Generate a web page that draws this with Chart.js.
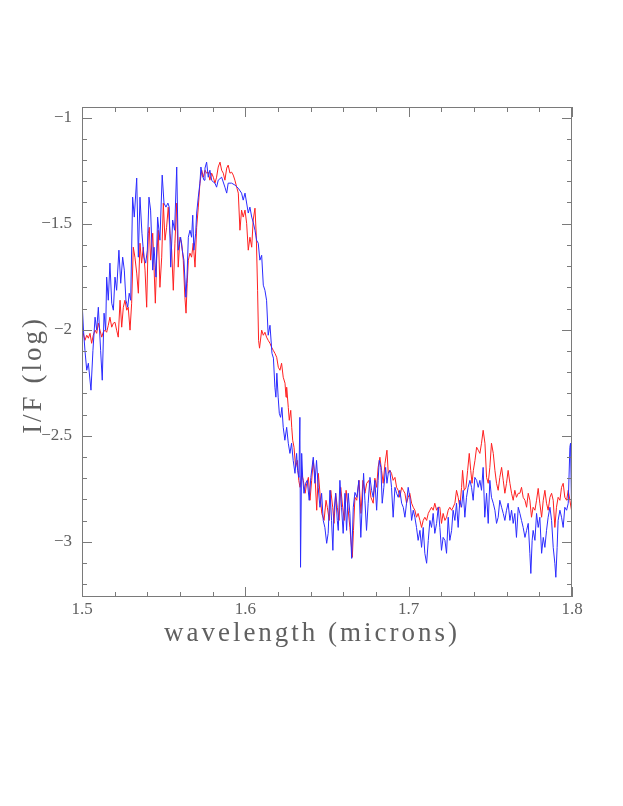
<!DOCTYPE html>
<html>
<head>
<meta charset="utf-8">
<title>I/F spectrum</title>
<script src="https://cdn.jsdelivr.net/npm/chart.js@4.4.1/dist/chart.umd.min.js"></script>
<style>
  html, body { margin: 0; padding: 0; background: #fff; }
  #wrap { width: 623px; height: 806px; }
</style>
</head>
<body>
<div id="wrap"><canvas id="spec" width="623" height="806"></canvas></div>
<script>
/* ── I/F spectrum, 1.5–1.8 µm ── */

// ── Data ──

// blue spectrum: [wavelength (microns), log I/F]
const blueSpectrum = [
  [1.5000,-1.861],[1.5009,-2.002],[1.5018,-2.097],[1.5029,-2.191],[1.5039,-2.158],[1.5055,-2.285],[1.5067,-2.097],[1.5080,-1.941],[1.5090,-2.002],[1.5100,-1.894],
  [1.5114,-2.097],[1.5124,-2.238],[1.5135,-1.922],[1.5145,-2.002],[1.5151,-1.752],[1.5161,-1.861],[1.5171,-1.686],[1.5182,-1.875],[1.5192,-1.908],[1.5202,-1.752],
  [1.5212,-1.814],[1.5226,-1.625],[1.5237,-1.781],[1.5249,-1.658],[1.5259,-1.719],[1.5269,-1.861],[1.5280,-1.894],[1.5289,-1.828],[1.5298,-1.861],[1.5310,-1.375],
  [1.5320,-1.469],[1.5335,-1.285],[1.5345,-1.658],[1.5355,-1.375],[1.5367,-1.545],[1.5379,-1.658],[1.5390,-1.686],[1.5400,-1.625],[1.5410,-1.375],[1.5420,-1.436],
  [1.5433,-1.719],[1.5441,-1.611],[1.5453,-1.752],[1.5463,-1.469],[1.5477,-1.578],[1.5491,-1.271],[1.5502,-1.403],[1.5514,-1.422],[1.5526,-1.403],[1.5534,-1.422],
  [1.5543,-1.705],[1.5555,-1.483],[1.5567,-1.531],[1.5580,-1.233],[1.5589,-1.625],[1.5604,-1.564],[1.5614,-1.625],[1.5624,-1.672],[1.5636,-1.847],[1.5643,-1.752],
  [1.5651,-1.564],[1.5661,-1.531],[1.5671,-1.564],[1.5678,-1.460],[1.5685,-1.625],[1.5696,-1.545],[1.5702,-1.450],[1.5712,-1.375],[1.5722,-1.309],[1.5728,-1.233],
  [1.5736,-1.271],[1.5747,-1.295],[1.5753,-1.238],[1.5763,-1.210],[1.5773,-1.281],[1.5783,-1.248],[1.5794,-1.295],[1.5804,-1.304],[1.5814,-1.309],[1.5824,-1.328],
  [1.5834,-1.295],[1.5855,-1.281],[1.5875,-1.328],[1.5886,-1.356],[1.5895,-1.309],[1.5916,-1.309],[1.5936,-1.318],[1.5957,-1.333],[1.5977,-1.356],[1.5987,-1.389],
  [1.5998,-1.356],[1.6018,-1.450],[1.6028,-1.422],[1.6039,-1.469],[1.6048,-1.493],[1.6059,-1.531],[1.6069,-1.578],[1.6079,-1.592],[1.6089,-1.672],[1.6100,-1.649],
  [1.6110,-1.790],[1.6120,-1.814],[1.6130,-1.861],[1.6140,-2.026],[1.6151,-1.979],[1.6163,-2.111],[1.6172,-2.134],[1.6181,-2.271],[1.6187,-2.318],[1.6193,-2.205],
  [1.6201,-2.318],[1.6208,-2.394],[1.6216,-2.413],[1.6224,-2.366],[1.6232,-2.460],[1.6242,-2.521],[1.6253,-2.460],[1.6263,-2.535],[1.6273,-2.583],[1.6283,-2.535],
  [1.6293,-2.616],[1.6304,-2.677],[1.6314,-2.583],[1.6320,-2.663],[1.6328,-2.696],[1.6334,-2.413],[1.6338,-3.120],[1.6345,-2.583],[1.6351,-2.696],[1.6359,-2.771],
  [1.6369,-2.724],[1.6379,-2.710],[1.6391,-2.804],[1.6401,-2.696],[1.6416,-2.601],[1.6426,-2.724],[1.6436,-2.616],[1.6446,-2.743],[1.6457,-2.837],[1.6467,-2.771],
  [1.6477,-2.899],[1.6487,-2.932],[1.6498,-3.007],[1.6507,-2.960],[1.6518,-2.757],[1.6528,-2.899],[1.6536,-3.040],[1.6542,-2.866],[1.6553,-2.771],[1.6563,-2.899],
  [1.6569,-2.946],[1.6579,-2.710],[1.6589,-2.837],[1.6599,-2.960],[1.6610,-2.771],[1.6620,-2.946],[1.6630,-2.771],[1.6640,-2.866],[1.6651,-3.078],[1.6661,-2.837],
  [1.6671,-2.767],[1.6683,-2.790],[1.6695,-2.710],[1.6707,-2.979],[1.6724,-2.677],[1.6732,-2.804],[1.6742,-2.946],[1.6752,-2.818],[1.6763,-2.696],[1.6773,-2.757],
  [1.6783,-2.790],[1.6793,-2.710],[1.6804,-2.851],[1.6813,-2.710],[1.6820,-2.616],[1.6830,-2.649],[1.6838,-2.818],[1.6848,-2.743],[1.6859,-2.649],[1.6867,-2.724],
  [1.6875,-2.677],[1.6885,-2.663],[1.6895,-2.743],[1.6905,-2.884],[1.6916,-2.743],[1.6926,-2.771],[1.6936,-2.790],[1.6946,-2.757],[1.6957,-2.818],[1.6967,-2.837],
  [1.6977,-2.884],[1.6987,-2.818],[1.6997,-2.743],[1.7007,-2.790],[1.7018,-2.899],[1.7028,-2.851],[1.7038,-2.884],[1.7048,-2.932],[1.7058,-2.993],[1.7069,-2.946],
  [1.7079,-3.026],[1.7089,-2.932],[1.7099,-3.054],[1.7110,-3.101],[1.7120,-2.993],[1.7130,-2.899],[1.7140,-2.932],[1.7150,-2.866],[1.7160,-2.960],[1.7171,-2.913],
  [1.7181,-2.837],[1.7191,-2.932],[1.7201,-3.040],[1.7211,-2.979],[1.7222,-2.993],[1.7232,-3.054],[1.7242,-2.884],[1.7252,-2.993],[1.7263,-2.946],[1.7272,-2.851],
  [1.7283,-2.899],[1.7293,-2.818],[1.7303,-2.932],[1.7313,-2.804],[1.7324,-2.837],[1.7334,-2.757],[1.7344,-2.884],[1.7354,-2.790],[1.7364,-2.743],[1.7375,-2.710],
  [1.7385,-2.743],[1.7395,-2.804],[1.7405,-2.696],[1.7416,-2.710],[1.7426,-2.743],[1.7436,-2.710],[1.7446,-2.757],[1.7456,-2.649],[1.7466,-2.884],[1.7477,-2.771],
  [1.7487,-2.913],[1.7497,-2.710],[1.7507,-2.790],[1.7518,-2.818],[1.7528,-2.851],[1.7538,-2.913],[1.7548,-2.884],[1.7558,-2.804],[1.7569,-2.837],[1.7579,-2.866],
  [1.7589,-2.899],[1.7599,-2.851],[1.7609,-2.818],[1.7620,-2.899],[1.7630,-2.851],[1.7640,-2.913],[1.7650,-2.866],[1.7660,-2.979],[1.7671,-2.837],[1.7681,-2.866],
  [1.7691,-2.899],[1.7701,-2.932],[1.7712,-2.979],[1.7722,-2.946],[1.7732,-2.913],[1.7742,-3.054],[1.7748,-3.149],[1.7756,-2.993],[1.7762,-2.946],[1.7773,-2.993],
  [1.7783,-2.866],[1.7793,-2.932],[1.7803,-2.884],[1.7814,-3.054],[1.7824,-2.979],[1.7834,-3.026],[1.7844,-2.946],[1.7854,-2.884],[1.7865,-2.837],[1.7875,-2.899],
  [1.7885,-3.026],[1.7895,-3.101],[1.7901,-3.167],[1.7909,-3.026],[1.7915,-2.899],[1.7926,-2.851],[1.7936,-2.884],[1.7946,-2.932],[1.7956,-2.837],[1.7967,-2.851],
  [1.7977,-2.818],[1.7987,-2.554],[1.7991,-2.535],[1.7997,-2.818]
];

// red spectrum: [wavelength (microns), log I/F]
const redSpectrum = [
  [1.5000,-2.035],[1.5008,-2.017],[1.5018,-2.050],[1.5029,-2.026],[1.5039,-2.040],[1.5049,-2.017],[1.5059,-2.064],[1.5069,-2.026],[1.5080,-2.002],[1.5090,-2.017],
  [1.5100,-1.969],[1.5110,-2.002],[1.5121,-2.035],[1.5130,-2.012],[1.5141,-2.002],[1.5151,-2.012],[1.5161,-1.979],[1.5171,-1.941],[1.5182,-1.988],[1.5192,-1.969],
  [1.5202,-1.965],[1.5212,-2.002],[1.5222,-2.035],[1.5233,-1.861],[1.5243,-1.988],[1.5253,-1.894],[1.5263,-1.861],[1.5274,-1.908],[1.5283,-1.894],[1.5294,-2.002],
  [1.5304,-1.875],[1.5314,-1.611],[1.5324,-1.658],[1.5335,-1.733],[1.5345,-1.828],[1.5355,-1.592],[1.5365,-1.686],[1.5375,-1.611],[1.5386,-1.719],[1.5396,-1.894],
  [1.5406,-1.545],[1.5412,-1.517],[1.5420,-1.672],[1.5433,-1.545],[1.5441,-1.705],[1.5449,-1.875],[1.5457,-1.672],[1.5467,-1.531],[1.5477,-1.800],[1.5488,-1.658],
  [1.5498,-1.403],[1.5508,-1.578],[1.5518,-1.517],[1.5528,-1.422],[1.5539,-1.545],[1.5549,-1.625],[1.5559,-1.814],[1.5569,-1.592],[1.5580,-1.403],[1.5589,-1.705],
  [1.5600,-1.564],[1.5610,-1.592],[1.5620,-1.672],[1.5630,-1.847],[1.5637,-1.922],[1.5644,-1.781],[1.5651,-1.672],[1.5661,-1.639],[1.5671,-1.658],[1.5681,-1.592],
  [1.5692,-1.705],[1.5702,-1.517],[1.5712,-1.422],[1.5722,-1.309],[1.5733,-1.248],[1.5743,-1.281],[1.5753,-1.248],[1.5763,-1.262],[1.5773,-1.257],[1.5783,-1.295],
  [1.5794,-1.262],[1.5804,-1.281],[1.5814,-1.309],[1.5824,-1.281],[1.5834,-1.233],[1.5845,-1.210],[1.5855,-1.248],[1.5865,-1.262],[1.5875,-1.295],[1.5886,-1.238],
  [1.5895,-1.224],[1.5906,-1.262],[1.5916,-1.257],[1.5926,-1.271],[1.5936,-1.295],[1.5947,-1.328],[1.5957,-1.356],[1.5967,-1.531],[1.5977,-1.436],[1.5987,-1.469],
  [1.5998,-1.436],[1.6008,-1.498],[1.6018,-1.625],[1.6028,-1.564],[1.6039,-1.611],[1.6048,-1.483],[1.6059,-1.427],[1.6067,-1.554],[1.6075,-1.814],[1.6081,-2.050],
  [1.6087,-2.087],[1.6100,-2.002],[1.6110,-2.026],[1.6120,-2.012],[1.6130,-2.035],[1.6140,-2.050],[1.6151,-2.064],[1.6161,-2.083],[1.6171,-2.097],[1.6181,-2.111],
  [1.6192,-2.130],[1.6202,-2.177],[1.6212,-2.191],[1.6222,-2.158],[1.6232,-2.224],[1.6243,-2.252],[1.6249,-2.318],[1.6253,-2.271],[1.6263,-2.366],[1.6269,-2.427],
  [1.6278,-2.380],[1.6284,-2.460],[1.6290,-2.521],[1.6298,-2.554],[1.6308,-2.649],[1.6318,-2.616],[1.6327,-2.710],[1.6335,-2.743],[1.6345,-2.677],[1.6355,-2.710],
  [1.6366,-2.771],[1.6376,-2.724],[1.6386,-2.696],[1.6396,-2.804],[1.6406,-2.710],[1.6416,-2.616],[1.6427,-2.696],[1.6437,-2.851],[1.6447,-2.677],[1.6457,-2.771],
  [1.6468,-2.866],[1.6482,-2.899],[1.6494,-2.804],[1.6502,-2.837],[1.6514,-2.899],[1.6523,-2.757],[1.6535,-2.837],[1.6543,-2.913],[1.6553,-2.771],[1.6563,-2.837],
  [1.6574,-2.899],[1.6584,-2.743],[1.6596,-2.837],[1.6606,-2.899],[1.6617,-2.757],[1.6630,-2.851],[1.6640,-2.932],[1.6655,-3.073],[1.6662,-2.946],[1.6671,-2.790],
  [1.6682,-2.804],[1.6696,-2.710],[1.6708,-2.866],[1.6720,-2.710],[1.6732,-2.771],[1.6743,-2.724],[1.6757,-2.710],[1.6769,-2.790],[1.6783,-2.818],[1.6793,-2.700],
  [1.6804,-2.743],[1.6813,-2.649],[1.6824,-2.601],[1.6834,-2.663],[1.6844,-2.724],[1.6855,-2.630],[1.6867,-2.568],[1.6875,-2.677],[1.6885,-2.663],[1.6895,-2.677],
  [1.6905,-2.710],[1.6916,-2.696],[1.6926,-2.743],[1.6936,-2.757],[1.6946,-2.790],[1.6957,-2.743],[1.6967,-2.757],[1.6977,-2.771],[1.6987,-2.818],[1.6997,-2.790],
  [1.7007,-2.771],[1.7018,-2.818],[1.7028,-2.837],[1.7038,-2.851],[1.7048,-2.884],[1.7058,-2.866],[1.7069,-2.899],[1.7079,-2.932],[1.7089,-2.899],[1.7099,-2.884],
  [1.7110,-2.899],[1.7120,-2.866],[1.7130,-2.851],[1.7140,-2.837],[1.7150,-2.851],[1.7160,-2.818],[1.7171,-2.851],[1.7181,-2.837],[1.7191,-2.837],[1.7201,-2.913],
  [1.7211,-2.866],[1.7222,-2.899],[1.7232,-2.884],[1.7242,-2.851],[1.7252,-2.837],[1.7263,-2.851],[1.7272,-2.837],[1.7283,-2.818],[1.7293,-2.757],[1.7303,-2.790],
  [1.7313,-2.837],[1.7324,-2.743],[1.7330,-2.663],[1.7340,-2.757],[1.7351,-2.743],[1.7361,-2.663],[1.7371,-2.583],[1.7380,-2.663],[1.7388,-2.724],[1.7396,-2.663],
  [1.7406,-2.616],[1.7416,-2.554],[1.7426,-2.568],[1.7436,-2.583],[1.7446,-2.535],[1.7456,-2.474],[1.7467,-2.535],[1.7477,-2.696],[1.7487,-2.724],[1.7497,-2.649],
  [1.7507,-2.535],[1.7518,-2.583],[1.7528,-2.663],[1.7538,-2.724],[1.7548,-2.757],[1.7558,-2.696],[1.7569,-2.649],[1.7579,-2.710],[1.7589,-2.771],[1.7599,-2.724],
  [1.7609,-2.663],[1.7620,-2.724],[1.7630,-2.771],[1.7640,-2.804],[1.7650,-2.757],[1.7660,-2.790],[1.7671,-2.771],[1.7681,-2.771],[1.7691,-2.743],[1.7701,-2.790],
  [1.7712,-2.804],[1.7722,-2.837],[1.7732,-2.771],[1.7742,-2.804],[1.7752,-2.884],[1.7762,-2.837],[1.7773,-2.851],[1.7783,-2.804],[1.7793,-2.748],[1.7803,-2.818],
  [1.7814,-2.884],[1.7824,-2.804],[1.7834,-2.757],[1.7844,-2.818],[1.7854,-2.851],[1.7865,-2.790],[1.7875,-2.771],[1.7885,-2.804],[1.7895,-2.932],[1.7905,-2.837],
  [1.7915,-2.790],[1.7926,-2.804],[1.7936,-2.743],[1.7946,-2.724],[1.7956,-2.790],[1.7967,-2.804],[1.7977,-2.757],[1.7987,-2.804],[1.7997,-2.851]
];

// axis ticks
const xMajor = [1.5, 1.6, 1.7, 1.8];
const xMinor = [1.52, 1.54, 1.56, 1.58, 1.62, 1.64, 1.66, 1.68, 1.72, 1.74, 1.76, 1.78];
const yMajor = [-1, -1.5, -2, -2.5, -3];
const yMinor = [-1.1, -1.2, -1.3, -1.4, -1.6, -1.7, -1.8, -1.9, -2.1, -2.2, -2.3, -2.4,
                -2.6, -2.7, -2.8, -2.9, -3.1, -3.2];

const xTitle = 'wavelength (microns)';
const yTitle = 'I/F (log)';

const AXIS_GREY = '#7a7a7a';
const TEXT_GREY = '#606060';
const SERIF = '"Liberation Serif", "DejaVu Serif", serif';

// ── Frame: box, inward ticks on all four sides, axis titles ──

const framePlugin = {
  id: 'frame',
  afterDatasetsDraw(chart) {
    const { ctx, chartArea: a, scales: { x, y } } = chart;
    ctx.save();
    ctx.strokeStyle = AXIS_GREY;
    ctx.lineWidth = 1;
    ctx.strokeRect(Math.round(a.left) + 0.5, Math.round(a.top) + 0.5,
                   Math.round(a.width) - 1, Math.round(a.height) - 1);

    ctx.beginPath();
    const xt = (v, len) => {
      const p = Math.round(x.getPixelForValue(v)) + 0.5;
      ctx.moveTo(p, a.bottom); ctx.lineTo(p, a.bottom - len);
      ctx.moveTo(p, a.top);    ctx.lineTo(p, a.top + len);
    };
    const yt = (v, len) => {
      const p = Math.round(y.getPixelForValue(v)) + 0.5;
      ctx.moveTo(a.left, p);  ctx.lineTo(a.left + len, p);
      ctx.moveTo(a.right, p); ctx.lineTo(a.right - len, p);
    };
    xMajor.forEach(v => xt(v, 10));
    xMinor.forEach(v => xt(v, 5));
    yMajor.forEach(v => yt(v, 10));
    yMinor.forEach(v => yt(v, 5));
    ctx.stroke();
    ctx.restore();
  },
  afterDraw(chart) {
    const { ctx } = chart;
    ctx.save();
    ctx.fillStyle = TEXT_GREY;
    ctx.font = `27px ${SERIF}`;
    ctx.letterSpacing = '3px';
    ctx.textAlign = 'center';
    ctx.textBaseline = 'middle';
    ctx.fillText(xTitle, 312, 634);
    ctx.translate(34, 375);
    ctx.rotate(-Math.PI / 2);
    ctx.fillText(yTitle, 0, 0);
    ctx.restore();
  }
};

// ── Chart ──

const toPoints = arr => arr.map(([w, f]) => ({ x: w, y: f }));

new Chart(document.getElementById('spec'), {
  type: 'line',
  data: {
    datasets: [
      {
        label: 'blue',
        data: toPoints(blueSpectrum),
        borderColor: '#2b2bff',
        borderWidth: 1,
        pointRadius: 0,
        tension: 0,
        order: 1
      },
      {
        label: 'red',
        data: toPoints(redSpectrum),
        borderColor: '#ff2020',
        borderWidth: 1,
        pointRadius: 0,
        tension: 0,
        order: 2
      }
    ]
  },
  options: {
    responsive: false,
    animation: false,
    events: [],
    layout: { padding: { left: 0, top: 107, right: 51, bottom: 169 } },
    plugins: { legend: { display: false }, tooltip: { enabled: false } },
    scales: {
      x: {
        type: 'linear',
        min: 1.5,
        max: 1.8,
        afterFit: s => { s.height = 40; },
        grid: { display: false, drawTicks: false },
        border: { display: false },
        ticks: {
          stepSize: 0.1,
          includeBounds: false,
          padding: 2,
          color: TEXT_GREY,
          font: { family: SERIF, size: 17 },
          maxRotation: 0,
          callback: v => v.toFixed(1)
        }
      },
      y: {
        type: 'linear',
        min: -3.26,
        max: -0.95,
        afterFit: s => { s.width = 82; },
        grid: { display: false, drawTicks: false },
        border: { display: false },
        ticks: {
          stepSize: 0.5,
          includeBounds: false,
          padding: 10,
          color: TEXT_GREY,
          font: { family: SERIF, size: 17 },
          callback: v => String(Math.round(v * 10) / 10).replace('-', '\u2212')
        }
      }
    }
  },
  plugins: [framePlugin]
});
</script>
</body>
</html>
